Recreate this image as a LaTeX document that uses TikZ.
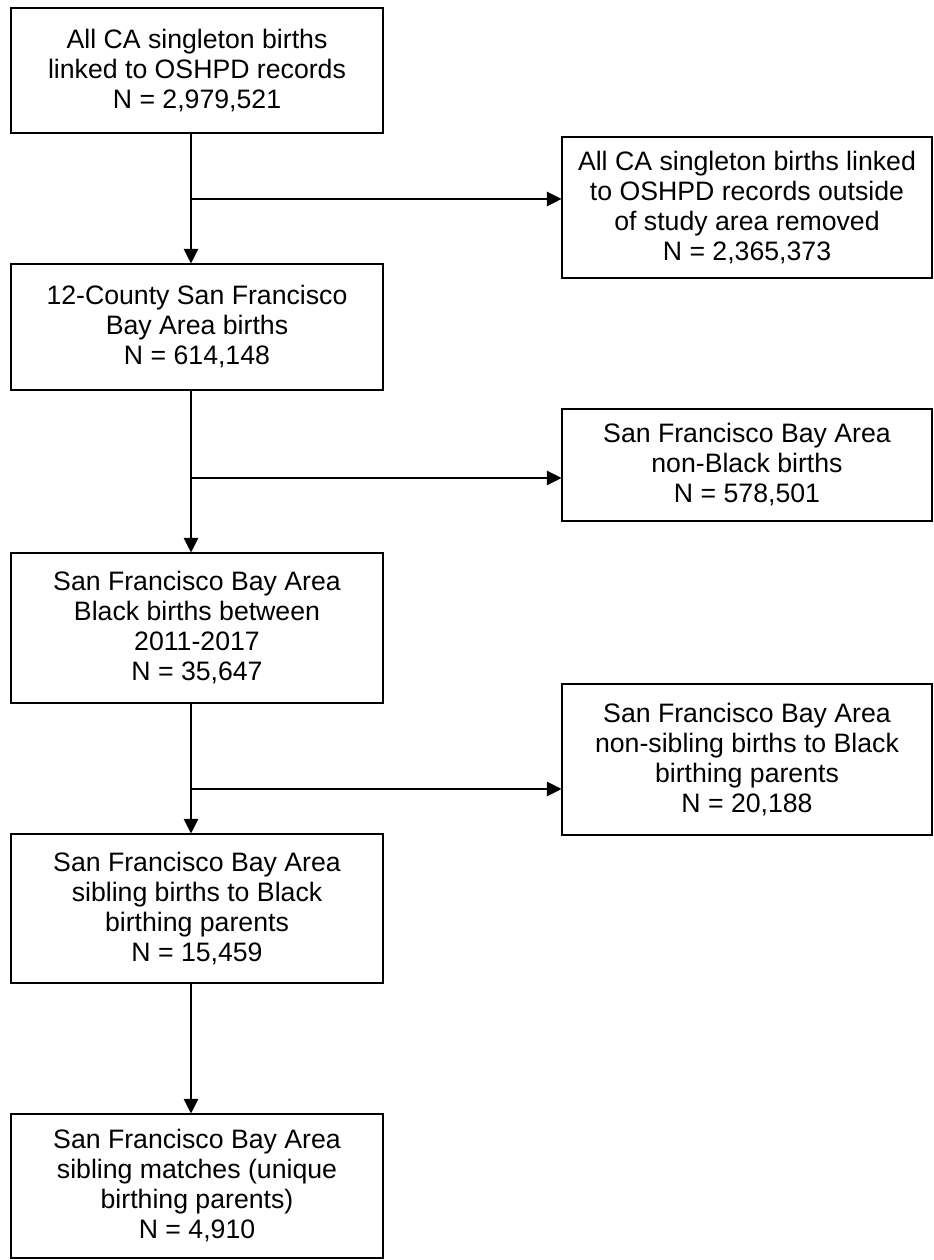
\documentclass[tikz,border=0pt]{standalone}
\usepackage{fontspec}
\setmainfont{Liberation Sans}
\usetikzlibrary{positioning, arrows.meta}

\begin{document}
\begin{tikzpicture}[
        x=0.75pt, y=0.75pt,
        box/.style={draw, line width=0.8pt, minimum width=279pt, align=center, inner sep=0pt,
            font=\fontsize{20}{22.5}\selectfont},
        side/.style={box, minimum width=277.5pt},
        arrow/.style={-{Triangle[length=11pt, width=11pt]}, line width=0.8pt},
    ]
        \useasboundingbox (0,0) rectangle (933,1260);

        % Main column
        \node[box, minimum height=93.75pt] (all) at (197,1189.5) {All CA singleton births\\linked to OSHPD records\\N = 2,979,521};
        \node[box, minimum height=94.5pt] (bay) at (197,933) {12-County San Francisco\\Bay Area births\\N = 614,148};
        \node[box, minimum height=112.5pt] (black) at (197,632) {San Francisco Bay Area\\Black births between\\2011-2017\\N = 35,647};
        \node[box, minimum height=111.75pt] (sib) at (197,351.5) {San Francisco Bay Area\\sibling births to Black\\birthing parents\\N = 15,459};
        \node[box, minimum height=108pt] (match) at (197,74) {San Francisco Bay Area\\sibling matches (unique\\birthing parents)\\N = 4,910};

        % Exclusions on the right
        \node[side, minimum height=105.75pt] (outside) at (747,1052.5) {All CA singleton births linked\\to OSHPD records outside\\of study area removed\\N = 2,365,373};
        \node[side, minimum height=84pt] (nonblack) at (747,795) {San Francisco Bay Area\\non-Black births\\N = 578,501};
        \node[side, minimum height=113.25pt] (nonsib) at (747,500.5) {San Francisco Bay Area\\non-sibling births to Black\\birthing parents\\N = 20,188};

        % Spine and branch points
        \coordinate (spine) at (191,0);
        \coordinate (b1) at (191,1061);
        \coordinate (b2) at (191,782);
        \coordinate (b3) at (191,471);

        \draw[arrow] (all.south -| spine) -- (bay.north -| spine);
        \draw[arrow] (bay.south -| spine) -- (black.north -| spine);
        \draw[arrow] (black.south -| spine) -- (sib.north -| spine);
        \draw[arrow] (sib.south -| spine) -- (match.north -| spine);

        \draw[arrow] (b1) -- (b1 -| outside.west);
        \draw[arrow] (b2) -- (b2 -| nonblack.west);
        \draw[arrow] (b3) -- (b3 -| nonsib.west);
    \end{tikzpicture}
\end{document}
